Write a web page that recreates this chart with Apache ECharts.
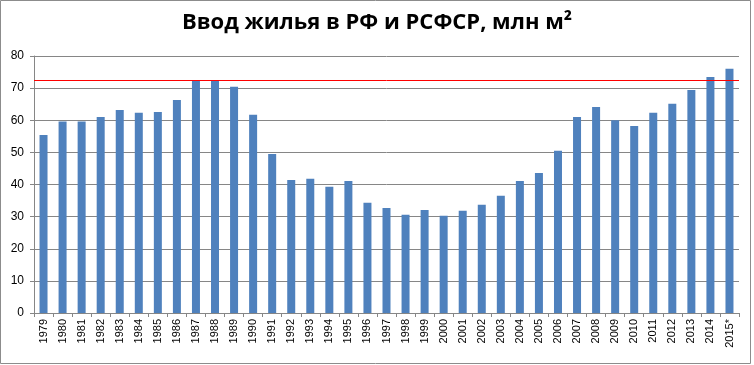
<!DOCTYPE html>
<html><head><meta charset="utf-8">
<script src="https://cdn.jsdelivr.net/npm/echarts@6/dist/echarts.min.js"></script>
<style>html,body{margin:0;padding:0;background:#fff}#c{width:754px;height:365px}</style>
</head><body><div id="c"></div>
<script>
const years = ['1979','1980','1981','1982','1983','1984','1985','1986','1987','1988','1989','1990','1991','1992','1993','1994','1995','1996','1997','1998','1999','2000','2001','2002','2003','2004','2005','2006','2007','2008','2009','2010','2011','2012','2013','2014','2015*'];
const housing = [55.4,59.6,59.6,61.0,63.2,62.3,62.6,66.3,72.5,72.3,70.4,61.7,49.5,41.4,41.8,39.3,41.1,34.3,32.7,30.6,32.1,30.3,31.8,33.7,36.5,41.1,43.6,50.5,61.0,64.1,60.0,58.2,62.3,65.1,69.4,73.5,76.0];
const refLevel = 72.5;
const yTicks = {min:0, max:80, step:10};
const chart = echarts.init(document.getElementById('c'), null, {renderer:'canvas'});
chart.setOption({
  animation:false,
  title:{text:'Ввод жилья в РФ и РСФСР, млн м²', left:'center', top:7,
    textStyle:{fontFamily:'Open Sans', fontWeight:'bold', fontSize:22, color:'#000'}},
  graphic:[{type:'rect', shape:{x:0.5,y:0.5,width:750,height:363}, style:{fill:'none', stroke:'#8c8c8c', lineWidth:1}, silent:true}],
  grid:{left:34, right:15, top:56, bottom:52},
  xAxis:{type:'category', data:years,
    axisLine:{lineStyle:{color:'#868686'}},
    axisTick:{show:true, length:4, lineStyle:{color:'#868686'}},
    axisLabel:{rotate:90, interval:0, fontFamily:'Liberation Sans', fontSize:11, color:'#000', margin:6}},
  yAxis:{type:'value', min:yTicks.min, max:yTicks.max, interval:yTicks.step,
    axisLine:{show:true, lineStyle:{color:'#868686'}},
    axisTick:{show:true, length:4, lineStyle:{color:'#868686'}},
    splitLine:{lineStyle:{color:'#868686'}},
    axisLabel:{fontFamily:'Liberation Sans', fontSize:12, color:'#000', margin:10}},
  series:[{type:'bar', data:housing, barWidth:8, itemStyle:{color:'#4F81BD'},
    markLine:{silent:true, symbol:'none', label:{show:false},
      lineStyle:{color:'#ff0000', width:1, type:'solid'},
      data:[{yAxis:refLevel}]}}]
});
</script></body></html>
